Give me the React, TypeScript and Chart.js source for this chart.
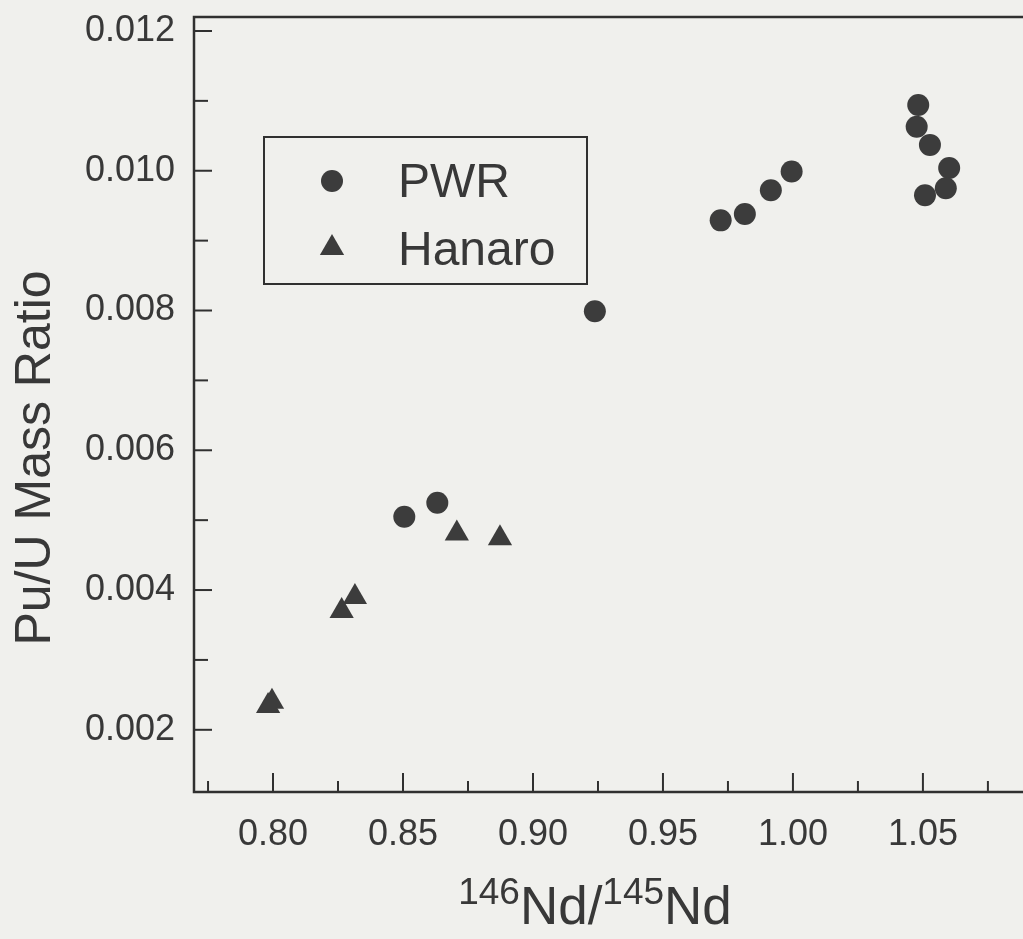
import React, { useEffect, useRef } from 'react';
import { Chart, registerables } from 'chart.js';

Chart.register(...registerables);

// ---- data ----
const pwrX = [0.8505, 0.8632, 0.9238, 0.9722, 0.9815, 0.9915, 0.9995, 1.0482, 1.0476, 1.0527, 1.0601, 1.0588, 1.0508];
const pwrY = [0.00505, 0.00525, 0.00799, 0.00929, 0.00938, 0.00972, 0.00999, 0.01094, 0.01063, 0.01037, 0.01004, 0.00975, 0.00965];
const hanaroX = [0.8707, 0.8873, 0.8315, 0.8264, 0.7981, 0.7996];
const hanaroY = [0.00481, 0.00474, 0.0039, 0.0037, 0.00234, 0.0024];
const seriesNames = ['PWR', 'Hanaro'];

const xTickValues = [0.775, 0.8, 0.825, 0.85, 0.875, 0.9, 0.925, 0.95, 0.975, 1.0, 1.025, 1.05, 1.075];
const xTickLabels = ['', '0.80', '', '0.85', '', '0.90', '', '0.95', '', '1.00', '', '1.05', ''];
const yTickValues = [0.002, 0.003, 0.004, 0.005, 0.006, 0.007, 0.008, 0.009, 0.01, 0.011, 0.012];
const yTickLabels = ['0.002', '', '0.004', '', '0.006', '', '0.008', '', '0.010', '', '0.012'];

const yTitle = 'Pu/U Mass Ratio';
const xTitleParts = [
  { text: '146', sup: true },
  { text: 'Nd/', sup: false },
  { text: '145', sup: true },
  { text: 'Nd', sup: false },
];

const X_MIN = 0.7696;
const X_MAX = 1.0885;
const Y_MIN = 0.00111;
const Y_MAX = 0.0122;

const INK = '#383838';
const MARK = '#3c3c3c';
const FONT = "'Liberation Sans', Arial, sans-serif";

const framePlugin = {
  id: 'frameAndTitles',
  beforeDatasetsDraw(chart: any) {
    const { ctx, chartArea, scales } = chart;
    const { left, right, top, bottom } = chartArea;
    ctx.save();
    ctx.strokeStyle = '#303030';
    ctx.lineWidth = 2.5;
    ctx.lineCap = 'square';
    ctx.beginPath();
    ctx.moveTo(right + 5, top);
    ctx.lineTo(left, top);
    ctx.lineTo(left, bottom);
    ctx.lineTo(right + 5, bottom);
    ctx.stroke();

    // inward tick marks
    ctx.lineWidth = 2;
    const xs = scales.x;
    xs.ticks.forEach((t: any, i: number) => {
      const px = xs.getPixelForValue(t.value);
      const len = xTickLabels[i] ? 18 : 10;
      ctx.beginPath();
      ctx.moveTo(px, bottom);
      ctx.lineTo(px, bottom - len);
      ctx.stroke();
    });
    const ys = scales.y;
    ys.ticks.forEach((t: any, i: number) => {
      const py = ys.getPixelForValue(t.value);
      const len = yTickLabels[i] ? 17 : 13;
      ctx.beginPath();
      ctx.moveTo(left, py);
      ctx.lineTo(left + len, py);
      ctx.stroke();
    });

    // y axis title
    ctx.fillStyle = INK;
    ctx.font = `50px ${FONT}`;
    ctx.textAlign = 'center';
    ctx.textBaseline = 'middle';
    ctx.save();
    ctx.translate(36, 458);
    ctx.rotate(-Math.PI / 2);
    ctx.fillText(yTitle, 0, 0);
    ctx.restore();

    // x axis title with superscripts
    const bigFont = `53px ${FONT}`;
    const smallFont = `37px ${FONT}`;
    let total = 0;
    const widths = xTitleParts.map((p) => {
      ctx.font = p.sup ? smallFont : bigFont;
      const w = ctx.measureText(p.text).width;
      total += w;
      return w;
    });
    let cx = 595 - total / 2;
    const baseY = 924;
    ctx.textAlign = 'left';
    ctx.textBaseline = 'alphabetic';
    xTitleParts.forEach((p, i) => {
      ctx.font = p.sup ? smallFont : bigFont;
      ctx.fillText(p.text, cx, p.sup ? baseY - 20 : baseY);
      cx += widths[i];
    });

    // legend box
    ctx.strokeStyle = '#303030';
    ctx.lineWidth = 2;
    ctx.strokeRect(264, 137, 323, 147);
    ctx.fillStyle = MARK;
    ctx.beginPath();
    ctx.arc(332, 181, 11, 0, Math.PI * 2);
    ctx.fill();
    const r = 14;
    const tx = 332;
    const ty = 248;
    ctx.beginPath();
    ctx.moveTo(tx, ty - r);
    ctx.lineTo(tx + r * Math.sin((2 * Math.PI) / 3), ty + r / 2);
    ctx.lineTo(tx - r * Math.sin((2 * Math.PI) / 3), ty + r / 2);
    ctx.closePath();
    ctx.fill();
    ctx.fillStyle = INK;
    ctx.font = `48px ${FONT}`;
    ctx.textBaseline = 'middle';
    ctx.fillText(chart.data.datasets[0].label, 398, 184);
    ctx.fillText(chart.data.datasets[1].label, 398, 252);
    ctx.restore();
  },
};

export default function App() {
  const ref = useRef<HTMLCanvasElement | null>(null);

  useEffect(() => {
    if (!ref.current) return;
    const chart = new Chart(ref.current, {
      type: 'scatter',
      data: {
        datasets: [
          {
            label: seriesNames[0],
            data: pwrX.map((x, i) => ({ x, y: pwrY[i] })),
            pointStyle: 'circle',
            pointRadius: 11,
            pointBackgroundColor: MARK,
            pointBorderWidth: 0,
            borderWidth: 0,
          },
          {
            label: seriesNames[1],
            data: hanaroX.map((x, i) => ({ x, y: hanaroY[i] })),
            pointStyle: 'triangle',
            pointRadius: 14,
            pointBackgroundColor: MARK,
            pointBorderWidth: 0,
            borderWidth: 0,
          },
        ],
      },
      options: {
        animation: false,
        responsive: false,
        maintainAspectRatio: false,
        layout: { autoPadding: false, padding: { left: 0, top: 17, right: 0, bottom: 0 } },
        plugins: { legend: { display: false }, tooltip: { enabled: false } },
        scales: {
          x: {
            type: 'linear',
            min: X_MIN,
            max: X_MAX,
            grid: { display: false, drawTicks: false },
            border: { display: false },
            afterBuildTicks: (scale: any) => {
              scale.ticks = xTickValues.map((v) => ({ value: v }));
            },
            afterFit: (scale: any) => {
              scale.height = 939 - 792;
              scale.paddingLeft = 0;
              scale.paddingRight = 0;
            },
            ticks: {
              autoSkip: false,
              maxRotation: 0,
              padding: 21,
              color: INK,
              font: { family: FONT, size: 36 },
              callback: (_v: any, i: number) => xTickLabels[i],
            },
          },
          y: {
            type: 'linear',
            min: Y_MIN,
            max: Y_MAX,
            grid: { display: false, drawTicks: false },
            border: { display: false },
            afterBuildTicks: (scale: any) => {
              scale.ticks = yTickValues.map((v) => ({ value: v }));
            },
            afterFit: (scale: any) => {
              scale.width = 194;
              scale.paddingTop = 0;
              scale.paddingBottom = 0;
            },
            ticks: {
              autoSkip: false,
              padding: 19,
              color: INK,
              font: { family: FONT, size: 36 },
              callback: (_v: any, i: number) => yTickLabels[i],
            },
          },
        },
      },
      plugins: [framePlugin],
    });
    return () => chart.destroy();
  }, []);

  return (
    <div
      style={{
        position: 'absolute',
        left: 0,
        top: 0,
        width: 1023,
        height: 939,
        background: '#f0f0ed',
        overflow: 'hidden',
      }}
    >
      <canvas ref={ref} width={1023} height={939} style={{ display: 'block' }} />
    </div>
  );
}
